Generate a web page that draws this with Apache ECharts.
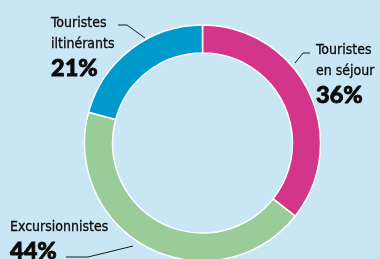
<!DOCTYPE html>
<html>
<head>
<meta charset="utf-8">
<script src="https://cdn.jsdelivr.net/npm/echarts@6/dist/echarts.min.js"></script>
<style>
  html, body { margin: 0; padding: 0; background: #C9E6F4; }
  #chart { width: 380px; height: 259px; }
</style>
</head>
<body>
<div id="chart"></div>
<script>
// catégories et parts (%)
var names = ['Touristes\nen séjour', 'Excursionnistes', 'Touristes\niltinérants'];
var values = [36, 44, 21];
var colors = ['#D2358A', '#99CC99', '#0099CC'];

var myChart = echarts.init(document.getElementById('chart'));

var data = names.map(function (n, i) {
  return { name: n, value: values[i], itemStyle: { color: colors[i] } };
});

// position des étiquettes + traits de rappel
var labelPos = [
  { x: 316, y: 40, line: [[295, 63], [303, 53], [310, 53]] },
  { x: 10, y: 217, line: [[133, 246], [88, 257], [66, 257]] },
  { x: 51, y: 13, line: [[145, 38], [127, 25], [118, 25]] }
];

var option = {
  backgroundColor: '#C9E6F4',
  animation: false,
  series: [{
    type: 'pie',
    center: [202.5, 143],
    radius: [90, 118],
    startAngle: 90,
    clockwise: true,
    avoidLabelOverlap: false,
    emphasis: { disabled: true },
    itemStyle: {
      borderColor: '#ffffff',
      borderWidth: 1.5
    },
    label: {
      show: true,
      position: 'outside',
      width: 130,
      overflow: 'none',
      formatter: function (p) {
        return '{n|' + p.name + '}\n{p|' + p.value + '%}';
      },
      rich: {
        n: {
          fontFamily: 'DejaVu Sans Condensed',
          fontSize: 14,
          lineHeight: 21,
          color: '#0a0a0a',
          textBorderColor: '#0a0a0a',
          textBorderWidth: 0.3
        },
        p: {
          fontFamily: 'Lato',
          fontWeight: 900,
          fontSize: 23.5,
          lineHeight: 26,
          color: '#0a0a0a',
          textBorderColor: '#0a0a0a',
          textBorderWidth: 0.8
        }
      }
    },
    labelLine: {
      show: true,
      lineStyle: { color: '#1a1a1a', width: 1 }
    },
    labelLayout: function (params) {
      var lp = labelPos[params.dataIndex];
      return {
        x: lp.x,
        y: lp.y,
        align: 'left',
        verticalAlign: 'top',
        labelLinePoints: lp.line
      };
    },
    data: data
  }]
};

myChart.setOption(option);
</script>
</body>
</html>
